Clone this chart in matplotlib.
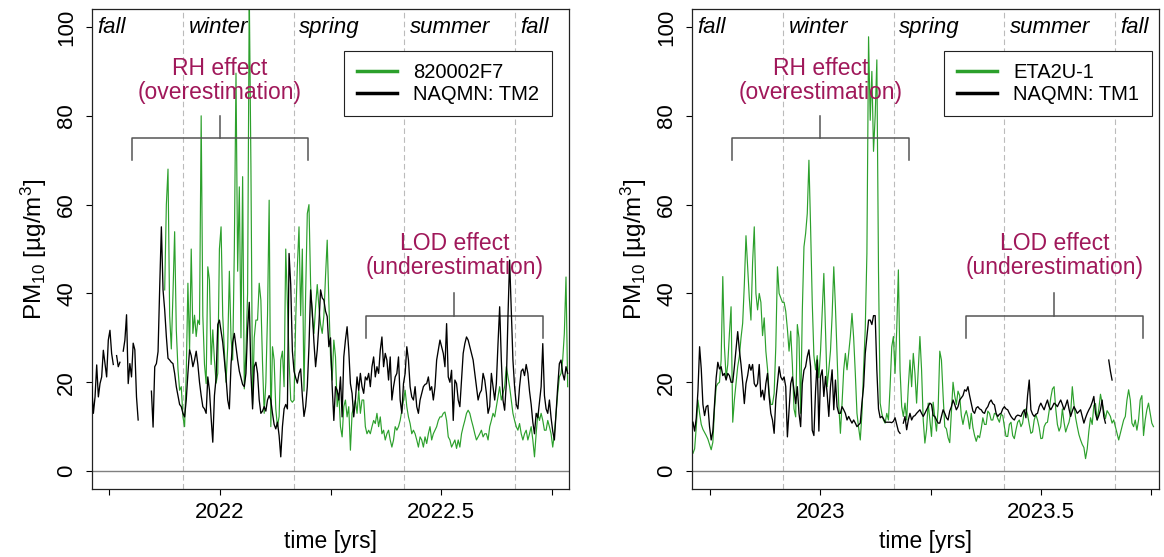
# %% IMPORT STATEMENTS
import numpy as np
import matplotlib.pyplot as plt
from matplotlib.lines import Line2D

plt.rcParams['font.family'] = ['Liberation Sans', 'DejaVu Sans']
plt.rcParams['mathtext.fontset'] = 'custom'
plt.rcParams['mathtext.rm'] = 'Liberation Sans'
plt.rcParams['mathtext.it'] = 'Liberation Sans:italic'

# %% DATA (regular sampling of 0.00375 yr)
nan = np.nan
STEP = 0.00375
LEFT_T0 = 2021.71
RIGHT_T0 = 2022.712

left_sensor = [nan] * 44 + [
    40.8, 60, 68, 35, 27.5, 40,
    53.9, 31.8, 23, 18.2, 19, 12.2, 10, 22, 42.3, 27,
    50, 31, 35.1, 30.3, 34, 33, 80, 35, 24, 19.7,
    46, 43, 24, 31.8, 25, 19.8, 22, 50, 55, 35,
    27, 20, 28, 45, 30, 25, 50, 89.6, 45, 64,
    30, 66.3, 18.5, 27, 40, 108, 68.6, 15, 30, 34,
    34, 42.3, 38.5, 24.3, 13, 20, 35, 61, 10, 28,
    25, 14, 10, 12.3, 25, 27, 19, 50, 38, 25,
    16, 15.5, 16, 34, 46, 55, 35, 50, 18, 40,
    58, 60, 42, 35, 31, 37, 42, 37, 33, 31,
    35, 44, 52, 38, 26, 20.5, 29.5, 25.7, 14.5, 17.5,
    10, 7.7, 14.5, 16, 12.2, 14.5, 4.7, 13, 14.5, 16,
    13, 18.2, 13, 16, 16, 10, 8.4, 9.2, 8.4, 10,
    11.4, 10.7, 13, 10, 12.2, 8.4, 9.2, 7, 8.4, 9.2,
    7, 5.4, 7, 10, 9.2, 10, 11.4, 13.7, 16, 18.2,
    14.5, 12.2, 10.7, 8.4, 9.2, 8.4, 7, 5.4, 7.7, 7,
    5.4, 7.7, 6.2, 8.4, 10, 7, 8.4, 9.2, 10, 11.4,
    12.2, 12.2, 13, 13.3, 11.4, 7.7, 7, 5.4, 6.2, 7,
    5.1, 7, 5.4, 8.4, 10, 11.4, 13, 13.7, 13, 11.4,
    10, 8.4, 7, 7.7, 8.4, 9.2, 7.7, 8.4, 8.4, 7,
    10, 11.4, 13, 12.2, 14.5, 16.7, 19, 16, 17.5, 19,
    23.5, 21.2, 19, 16, 13, 11.4, 10, 9.2, 10.7, 8.4,
    7, 8.4, 9.2, 7, 8.4, 10, 7, 3.2, 8.4, 13,
    11.4, 13, 11.4, 9.2, 9.2, 11.4, 10, 8.4, 5.4, 8.4,
    13, 17.5, 21.2, 22, 25, 31, 43.7, 19]

left_ref = [
    19, 13, 16.7, 23.9, 16.7, 19.7, 21.2, 27.2, 24.2, 21.2,
    29.5, 31.7, 26.5, 24, nan, 26, 23.5, 24.5, nan, 27,
    29.5, 35.2, 19.7, 24.2, 21.2, 28.8, 27.3, 16.7, 11.5, nan,
    nan, nan, nan, nan, nan, nan, 18, 9.9, 23.5, 24.2,
    26.9, 41.5, 55, 40.8, 36.3, 30.3, 25.4, 25, 24.5, 24.2,
    22, 19, 17, 15, 14.5, 13, 12.2, 16, 22, 27.3,
    26, 23.5, 25, 27, 24, 20, 17, 14.5, 14, 13,
    21.2, 18.2, 12, 6.5, 17, 21, 33, 34, 31.5, 29,
    25, 21, 16, 14, 24, 29, 31, 28, 25, 22.5,
    21, 19.5, 19, 22, 32, 38, 22, 14, 23.5, 24.5,
    22, 16, 13, 13.5, 14.5, 13.5, 16, 17, 16, 13,
    10.5, 9.5, 11, 8, 3.2, 10, 14, 15, 14, 49,
    42, 27, 22.5, 21, 19.8, 22, 23, 17, 12.3, 14.5,
    19, 28, 40.8, 36, 29, 23.5, 27.3, 33, 40.8, 39,
    38.5, 36, 34.8, 28, 30, 19, 11.4, 19, 18.2, 16,
    21.2, 12.2, 25.7, 29.5, 32.5, 27.2, 19.7, 17.5, 12.2, 16,
    21.2, 18.2, 22, 19, 17.5, 21.2, 20.5, 22, 19, 23.5,
    25.7, 21.2, 23.5, 22, 27.2, 30.2, 23.5, 26.5, 25, 20.5,
    25.7, 16, 19, 21.2, 22, 25.7, 16, 13, 19.7, 22,
    28, 25, 19, 16.7, 16, 19, 14.5, 13, 16, 17.5,
    19, 19.5, 19.7, 21.2, 18.2, 19, 16, 19, 25, 27.2,
    29.5, 28, 26.5, 23.5, 33.2, 21.2, 20, 22.7, 11.4, 20.5,
    19.7, 16, 14.5, 20.5, 26.5, 28.7, 30.2, 29.5, 28, 26.5,
    25, 22, 19, 16, 17.5, 18.2, 22, 20.5, 17.5, 13,
    14.5, 22, 19, 16, 19.7, 28.7, 37, 25, 16, 13.7,
    19.7, 34.7, 47.5, 36, 25, 19, 15, 14, 19, 22.5,
    23, 21.5, 24, 22, 18, 15, 11, 8.4, 13, 12,
    15.5, 19, 28.7, 17, 14, 13, 16, 12, 9, 7,
    13, 19, 24.2, 25, 22, 20.5, 23.5, 22]

right_sensor = [
    4, 5, 10, 16, 13, 10.5, 9.4, 8.7, 8, 7.2,
    6, 4.8, 6.5, 14, 19, 19.7, 20, 25, 43.8, 28,
    21, 24, 31, 37, 11, 16, 19.7, 23.5, 25.8, 30,
    33.3, 42, 53, 46, 39, 34, 47, 55, 40, 36.3,
    40, 38, 30.5, 34.5, 27, 23, 17.5, 15, 15, 17.5,
    28, 46, 40, 39, 38, 38, 36, 32, 27, 31.5,
    24, 14, 12.2, 33, 30, 13, 36, 50.5, 53.5, 58,
    70, 55, 38, 26, 22.8, 26, 21, 27, 36, 44.5,
    32, 19, 22.8, 27, 35, 46, 37, 26, 15, 8.5,
    15.3, 22.8, 26.5, 22.8, 26.5, 30.3, 35.5, 30, 22, 13,
    9.8, 7, 13, 23, 32, 49, 97.8, 79, 90, 72,
    80, 92.6, 45, 15.3, 13, 11.5, 10.8, 13, 11.5, 19,
    28, 30.3, 22, 31.8, 45.3, 22.8, 14.5, 12.3, 15.3, 11.5,
    19, 25, 19, 26.5, 22, 15.3, 22.8, 30.3, 22.8, 11.5,
    6.3, 9.3, 15.3, 11.5, 7.8, 15.5, 12, 9, 14, 27,
    25, 17, 10, 9.5, 7.5, 6.4, 13, 20, 17, 15,
    18, 17, 12.5, 10.5, 12.5, 13.6, 12, 9.5, 13, 9.8,
    8, 6.7, 8, 7.5, 9.5, 12, 10.5, 10.5, 13.5, 13,
    11.5, 11.5, 13, 12.8, 11.8, 11, 12.8, 12.5, 10, 7.8,
    7.8, 10.5, 11, 8, 7.3, 9.3, 11, 11.5, 10, 10.8,
    13.5, 14, 12.7, 10.5, 8.5, 8.8, 11.5, 12.7, 11.5, 9.8,
    7.3, 7.4, 10, 10.8, 11, 13.5, 16.5, 18.5, 19, 14,
    10.5, 9, 10, 14, 11, 8.8, 10, 11, 13, 19,
    15, 12, 10, 8.2, 7, 6, 5.3, 2.8, 5, 9,
    12, 10.5, 14.8, 15.2, 11.5, 14, 17.3, 15.3, 13.6, 11.8,
    13.6, 13, 12.3, 10.8, 11.5, 10, 8.5, 7, 8.5, 10,
    11.5, 12.3, 16, 18.3, 16, 10.8, 10, 11.5, 9.2, 11.5,
    16, 17, 8, 11.5, 13.8, 15.3, 13, 10.8, 10]

right_ref = [
    11, 9, 12, 18, 28, 23, 15, 12.5, 14.5, 14.8,
    10, 7, 9, 15, 21, 24.5, 23, 23.5, 21.5, 22,
    20.5, 22, 21.5, 20, 20, 23.5, 27.5, 31.4, 27.3, 24,
    20, 15.2, 19.7, 21.5, 24, 22.7, 24, 19.7, 19, 19.7,
    24, 16.7, 18.2, 16, 19.7, 22, 16.7, 13, 11.5, 8.5,
    16, 19.7, 23.5, 21.2, 20.5, 21.2, 19, 7.7, 13.7, 19.7,
    21.2, 18.2, 15.2, 19, 13, 10, 19.7, 22.7, 23.5, 25.8,
    27.3, 23.5, 9.2, 8, 18, 25, 9, 21.3, 22.8, 16.8,
    21.3, 17.5, 12.3, 19, 22.8, 13.8, 20.5, 14.5, 13, 13,
    14.5, 13.8, 13, 11.5, 12.3, 11.5, 10.8, 11.5, 10.8, 10,
    10.4, 10.8, 15.3, 19, 26.5, 30.3, 34, 34, 33, 35,
    35, 22.8, 14, 12, 12.3, 11.8, 11, 11, 11, 11,
    10.9, 11.2, 12, 10.5, 9, 8.5, nan, 10.8, 12.3, 9.3,
    11.5, 13, 11.5, 12.3, 12.5, 13, 13.4, 13.8, 13, 12.3,
    13, 13.8, 14.5, 15.3, 15, 12.5, 12.3, 11.5, 10.8, 10.8,
    12.3, 13.8, 13, 12, 11.5, 13.5, 14.5, 16, 15, 13.8,
    14.5, 16, 16.5, 17, 18.3, 18, 19, 17, 15.3, 13.5,
    13, 14.2, 14.5, 14, 13.8, 13.2, 13, 14, 14.5, 15.5,
    16, 15.2, 14.9, 13, 12.3, 12.8, 13, 14, 14.5, 14,
    13.8, 13, 12.3, 11.8, 11.5, 12.3, 12.6, 12.5, 12.3, 13.2,
    13.8, 12, 17, 20.5, 13.8, 12.8, 12.3, 12.8, 13, 14.5,
    15.3, 14.5, 13.8, 15, 16, 14.5, 13.8, 14.5, 15.3, 15,
    14.5, 15.3, 16, 15, 13.8, 14.8, 16, 14, 12.3, 13.5,
    14.5, 13.8, 13, 13.4, 13.8, 12.3, 10.8, 12, 13, 13.8,
    14.5, 15.5, 16.8, 13, 11.5, 12.5, 13.8, 16, 12.3, 10.8,
    nan, 25, 22.5, 20.5] + [nan] * 25

season_names = ['fall', 'winter', 'spring', 'summer', 'fall']

GREEN = '#2ca02c'
NOTE = '#a0185a'

assert len(left_sensor) == 288 and len(left_ref) == 288
assert len(right_sensor) == 279 and len(right_ref) == 279

# %% FUNCTION DEFINITIONS


def draw_bracket(axes, x_start, x_end, y_low, y_mid, y_high):
    """square bracket pointing up, with a stem in the middle"""
    axes.plot([x_start, x_start, x_end, x_end], [y_low, y_mid, y_mid, y_low],
              color='#555555', lw=1.1)
    x_c = (x_start + x_end) / 2
    axes.plot([x_c, x_c], [y_mid, y_high], color='#555555', lw=1.1)
    return x_c


def draw_panel(axes, t0, sensor, ref, sensor_name, ref_name, year, x_lim, legend_right):
    t_sensor = t0 + STEP * np.arange(len(sensor))
    t_ref = t0 + STEP * np.arange(len(ref))

    axes.set_xlim(x_lim)
    axes.set_ylim(-4, 104)

    # season boundaries (Dec, Mar, Jun, Sep)
    bounds = [year - 1 + 11/12, year + 2/12, year + 5/12, year + 8/12]
    for b in bounds:
        axes.axvline(b, color='#bbbbbb', lw=0.8, ls=(0, (5, 3)), zorder=1)
    axes.axhline(0, color='#808080', lw=1.0, zorder=1)

    starts = [x_lim[0]] + bounds
    for s, name in zip(starts, season_names):
        axes.annotate(name, (s, 100), xytext=(4, 0), textcoords='offset points',
                      ha='left', va='center', fontsize=16, style='italic')

    axes.plot(t_sensor, sensor, color=GREEN, lw=0.85, zorder=2)
    axes.plot(t_ref, ref, color='black', lw=0.95, zorder=3)

    # annotations
    x_rh = draw_bracket(axes, year - 0.2, year + 0.2, 70, 75, 80)
    axes.text(x_rh, 88, 'RH effect\n(overestimation)', color=NOTE, fontsize=16.5,
              ha='center', va='center', linespacing=1.05)
    x_lod = draw_bracket(axes, year + 0.33, year + 0.73, 30, 35, 40)
    axes.text(x_lod, 48.5, 'LOD effect\n(underestimation)', color=NOTE, fontsize=16.5,
              ha='center', va='center', linespacing=1.05)

    axes.set_xticks([year - 0.25, year, year + 0.25, year + 0.5, year + 0.75])
    axes.set_xticklabels(['', str(year), '', f'{year}.5', ''])
    axes.set_yticks([0, 20, 40, 60, 80, 100])
    axes.set_yticklabels(['0', '20', '40', '60', '80', '100'], rotation=90, va='center')
    axes.tick_params(direction='out', length=4.5, width=0.8, labelsize=16, pad=5)
    axes.tick_params(axis='y', pad=6)
    for sp in axes.spines.values():
        sp.set_linewidth(0.9)
        sp.set_color('#222222')

    axes.set_xlabel('time [yrs]', fontsize=16.5, labelpad=5)
    axes.set_ylabel(r'PM$_{10}$ [µg/m$^3$]', fontsize=17.5, labelpad=5)

    handles = [Line2D([], [], color=GREEN, lw=2.5), Line2D([], [], color='black', lw=2.5)]
    leg = axes.legend(handles, [sensor_name, ref_name], loc='upper right',
                      bbox_to_anchor=(legend_right, 0.9135), fontsize=14.5,
                      frameon=True, fancybox=False, edgecolor='#222222', framealpha=1,
                      borderpad=0.62, handlelength=2.0, handletextpad=0.8,
                      labelspacing=0.12, borderaxespad=0)
    leg.get_frame().set_linewidth(0.8)
    return 0


# %% MAIN


def main():
    fig = plt.figure(figsize=(11.64, 5.57), dpi=100)
    ax_left = fig.add_axes([0.0788, 0.1224, 0.4103, 0.861])
    ax_right = fig.add_axes([0.5942, 0.1224, 0.4015, 0.861])

    draw_panel(ax_left, LEFT_T0, left_sensor, left_ref, '820002F7', 'NAQMN: TM2',
               2022, (2021.71, 2022.79), 0.9632)
    draw_panel(ax_right, RIGHT_T0, right_sensor, right_ref, 'ETA2U-1', 'NAQMN: TM1',
               2023, (2022.709, 2023.767), 0.9844)

    fig.savefig('out.png', dpi=100)
    return 0


# %% MAIN EXECUTION
if __name__ == "__main__":
    main()
